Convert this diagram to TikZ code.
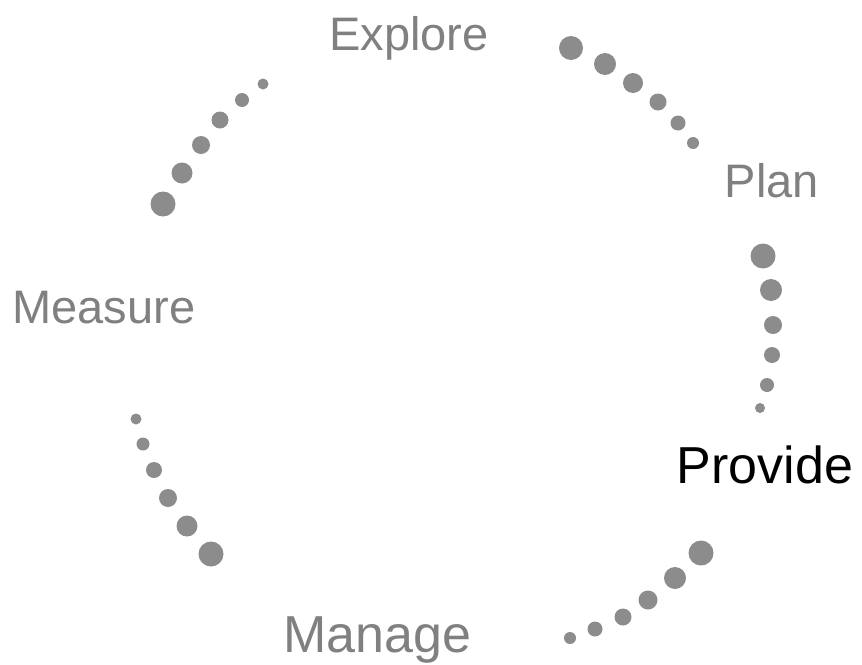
\documentclass[tikz,border=0pt]{standalone}
\usepackage{fontspec}
\setmainfont{Liberation Sans}
\usepackage{tikz}
\usepackage{color}

\definecolor{stagegray}{gray}{0.5}
\definecolor{dotgray}{gray}{0.55}

\begin{document}
\begin{tikzpicture}[x=1pt,y=-1pt,
  stage/.style={inner sep=0pt,anchor=base,text=stagegray,font=\fontsize{47}{56}\selectfont},
  dot/.style={fill=dotgray}]
\useasboundingbox (0,0) rectangle (862,664);
% stages of the cycle
\node[stage] (explore) at (409,50) {Explore};
\node[stage] (plan) at (772,197) {Plan};
\node[stage,text=black,font=\fontsize{52}{62}\selectfont] (provide) at (765,483) {Provide};
\node[stage,font=\fontsize{52}{62}\selectfont] (manage) at (377,652) {Manage};
\node[stage] (measure) at (104,323) {Measure};
% dots between the stages, big to small
\foreach \x/\y/\r in {571/48/12,605/64/11,633/83/10,658/102/8.5,678/123/7.5,693/143/6,
                      763/256/12.5,771/290/11,773/325/9,772/355/8,767/385/7,760/408/5,
                      701/553/12.5,675/578/11,648/600/9.5,623/617/8.5,595/629/7.5,570/638/6,
                      211/554/12.5,187/526/10.5,168/498/9,154/470/8,143/444/6.5,136/419/5.5,
                      163/204/12.5,182/173/10.5,201/145/9,220/120/8.5,242/100/7,263/84/5.5}
  \fill[dot] (\x,\y) circle (\r);
\end{tikzpicture}
\end{document}
